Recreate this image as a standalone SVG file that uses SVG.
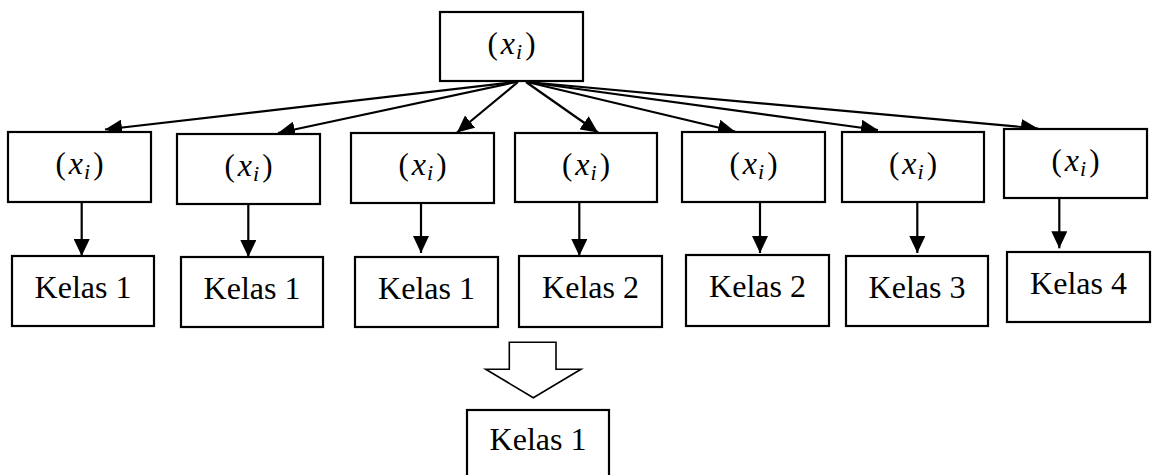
<svg xmlns="http://www.w3.org/2000/svg" width="1152" height="475" viewBox="0 0 1152 475">
<style>
.box{fill:#fff;stroke:#000;stroke-width:2.2}
text{font-family:"Liberation Serif","Times New Roman",Tinos,"DejaVu Serif",serif;fill:#000;text-anchor:middle}
.lbl{font-size:32px}
.math{font-size:31px}
.it{font-style:italic;font-size:32px}
.sub{font-style:italic;font-size:22px}
.conn{stroke:#000;stroke-width:2.2;fill:none}
</style>
<defs>
<marker id="ah" markerUnits="userSpaceOnUse" markerWidth="17" markerHeight="16" refX="17" refY="8" orient="auto">
<path d="M0,0 L17,8 L0,16 z" fill="#000"/>
</marker>
</defs>
<rect width="1152" height="475" fill="#fff"/>
<g id="connectors">
<line class="conn" x1="516" y1="82" x2="105" y2="129.5" marker-end="url(#ah)"/>
<line class="conn" x1="516" y1="82" x2="278" y2="133" marker-end="url(#ah)"/>
<line class="conn" x1="518" y1="82" x2="457" y2="132.5" marker-end="url(#ah)"/>
<line class="conn" x1="526" y1="82" x2="598" y2="132.5" marker-end="url(#ah)"/>
<line class="conn" x1="527" y1="82" x2="735" y2="131.5" marker-end="url(#ah)"/>
<line class="conn" x1="527" y1="82" x2="878" y2="130" marker-end="url(#ah)"/>
<line class="conn" x1="527" y1="82" x2="1038" y2="128.5" marker-end="url(#ah)"/>
<line class="conn" x1="81.7" y1="202" x2="81.7" y2="256" marker-end="url(#ah)"/>
<line class="conn" x1="248.3" y1="204" x2="248.3" y2="257" marker-end="url(#ah)"/>
<line class="conn" x1="421" y1="198" x2="421" y2="253" marker-end="url(#ah)"/>
<line class="conn" x1="579.3" y1="202" x2="579.3" y2="256" marker-end="url(#ah)"/>
<line class="conn" x1="760" y1="200" x2="760" y2="253" marker-end="url(#ah)"/>
<line class="conn" x1="917.3" y1="198" x2="917.3" y2="253" marker-end="url(#ah)"/>
<line class="conn" x1="1059.3" y1="193" x2="1059.3" y2="248.3" marker-end="url(#ah)"/>
<polygon points="509.3,342.3 556,342.3 556,369.3 581,369.3 533.3,397.7 485.7,369.3 509.3,369.3" fill="#fff" stroke="#000" stroke-width="1.6"/>
</g>
<g id="top">
<rect class="box" x="440" y="12" width="143" height="69"/>
<text class="math" x="511.5" y="54">(<tspan class="it" dx="3">x</tspan><tspan class="sub" dx="1" dy="5">i</tspan><tspan dx="3" dy="-5">)</tspan></text>
</g>
<g id="x1"><rect class="box" x="8" y="132" width="143" height="70"/>
<text class="math" x="79.5" y="174">(<tspan class="it" dx="3">x</tspan><tspan class="sub" dx="1" dy="5">i</tspan><tspan dx="3" dy="-5">)</tspan></text></g>
<g id="x2"><rect class="box" x="177" y="134" width="143" height="70"/>
<text class="math" x="248.5" y="176">(<tspan class="it" dx="3">x</tspan><tspan class="sub" dx="1" dy="5">i</tspan><tspan dx="3" dy="-5">)</tspan></text></g>
<g id="x3"><rect class="box" x="351" y="133" width="143" height="70"/>
<text class="math" x="422.5" y="175">(<tspan class="it" dx="3">x</tspan><tspan class="sub" dx="1" dy="5">i</tspan><tspan dx="3" dy="-5">)</tspan></text></g>
<g id="x4"><rect class="box" x="515" y="133" width="142" height="69"/>
<text class="math" x="586" y="175">(<tspan class="it" dx="3">x</tspan><tspan class="sub" dx="1" dy="5">i</tspan><tspan dx="3" dy="-5">)</tspan></text></g>
<g id="x5"><rect class="box" x="682" y="132" width="143" height="70"/>
<text class="math" x="753.5" y="174">(<tspan class="it" dx="3">x</tspan><tspan class="sub" dx="1" dy="5">i</tspan><tspan dx="3" dy="-5">)</tspan></text></g>
<g id="x6"><rect class="box" x="842" y="132" width="142" height="70"/>
<text class="math" x="913" y="174">(<tspan class="it" dx="3">x</tspan><tspan class="sub" dx="1" dy="5">i</tspan><tspan dx="3" dy="-5">)</tspan></text></g>
<g id="x7"><rect class="box" x="1004" y="129" width="143" height="69"/>
<text class="math" x="1075.5" y="171">(<tspan class="it" dx="3">x</tspan><tspan class="sub" dx="1" dy="5">i</tspan><tspan dx="3" dy="-5">)</tspan></text></g>
<g id="k1"><rect class="box" x="12" y="256" width="142" height="70"/><text class="lbl" x="83" y="298">Kelas 1</text></g>
<g id="k2"><rect class="box" x="181" y="257" width="142" height="70"/><text class="lbl" x="252" y="299">Kelas 1</text></g>
<g id="k3"><rect class="box" x="355" y="257" width="143" height="70"/><text class="lbl" x="426.5" y="299">Kelas 1</text></g>
<g id="k4"><rect class="box" x="519" y="256" width="143" height="71"/><text class="lbl" x="590.5" y="298">Kelas 2</text></g>
<g id="k5"><rect class="box" x="686" y="255" width="143" height="71"/><text class="lbl" x="757.5" y="297">Kelas 2</text></g>
<g id="k6"><rect class="box" x="846" y="256" width="142" height="70"/><text class="lbl" x="917" y="298">Kelas 3</text></g>
<g id="k7"><rect class="box" x="1007" y="252" width="143" height="70"/><text class="lbl" x="1078.5" y="294">Kelas 4</text></g>
<g id="final"><rect class="box" x="467" y="410" width="142" height="70"/><text class="lbl" x="538" y="450">Kelas 1</text></g>
</svg>
